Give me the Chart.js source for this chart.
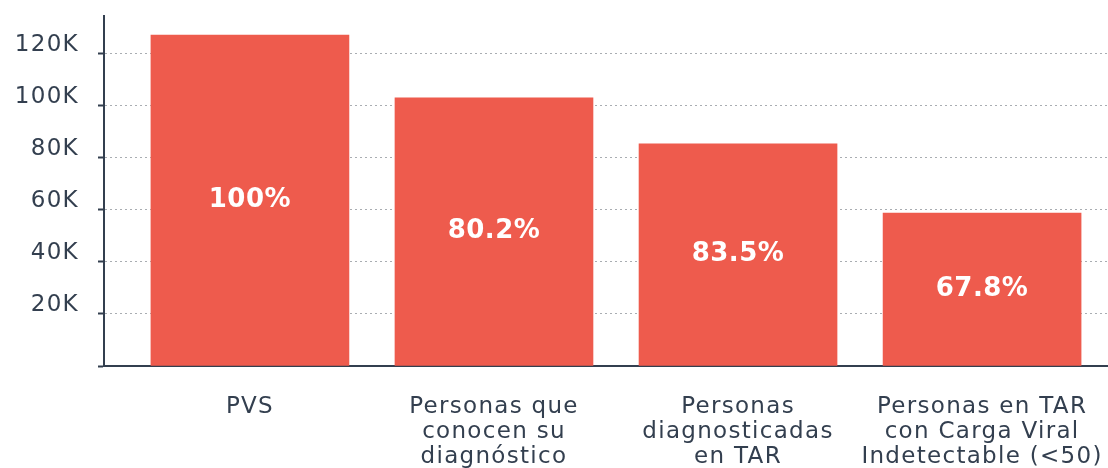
<html><head>
<meta charset="UTF-8">
<title>PVS cascada</title>
<style>
  body { margin: 0; padding: 0; background: #ffffff; }
  .chart-container { width: 1108px; height: 468px; }
</style>
<script src="https://cdn.jsdelivr.net/npm/chart.js"></script>
</head>
<body>
  <div class="chart-container">
    <canvas id="cascadeChart"></canvas>
  </div>

  <script>
    // data
    const categories = [
      ['PVS'],
      ['Personas que', 'conocen su', 'diagnóstico'],
      ['Personas', 'diagnosticadas', 'en TAR'],
      ['Personas en TAR', 'con Carga Viral', 'Indetectable (<50)']
    ];
    const peopleCount = [127300, 103100, 85400, 58800];
    const percentLabels = ['100%', '80.2%', '83.5%', '67.8%'];
    const yTicks = [0, 20000, 40000, 60000, 80000, 100000, 120000];

    const textColor = '#333f4f';
    const barColor = '#ee5b4d';

    // the reference font is wide, space the letters a bit
    const spacingPlugin = {
      id: 'letterSpacing',
      beforeDraw(chart) {
        chart.ctx.letterSpacing = '1.3px';
      }
    };

    // white percentage in the middle of each bar
    const percentPlugin = {
      id: 'percentLabels',
      afterDatasetsDraw(chart) {
        const ctx = chart.ctx;
        const meta = chart.getDatasetMeta(0);
        ctx.save();
        ctx.letterSpacing = '0.5px';
        ctx.fillStyle = '#ffffff';
        ctx.font = 'bold 26px "DejaVu Sans"';
        ctx.textAlign = 'center';
        ctx.textBaseline = 'middle';
        meta.data.forEach((bar, i) => {
          const mid = (bar.y + bar.base) / 2;
          ctx.fillText(percentLabels[i], bar.x, mid);
        });
        ctx.restore();
      }
    };

    const ctx = document.getElementById('cascadeChart').getContext('2d');
    new Chart(ctx, {
      type: 'bar',
      data: {
        datasets: [{
          data: peopleCount.map((v, i) => ({ x: i, y: v })),
          backgroundColor: barColor,
          barThickness: 198
        }]
      },
      options: {
        responsive: true,
        maintainAspectRatio: false,
        animation: false,
        layout: { padding: { top: 16, right: 0, left: 0, bottom: 0 } },
        plugins: {
          legend: { display: false },
          tooltip: { enabled: false }
        },
        scales: {
          x: {
            type: 'linear',
            offset: false,
            min: -0.598,
            max: 3.516,
            afterBuildTicks: (axis) => {
              axis.ticks = categories.map((c, i) => ({ value: i }));
            },
            afterFit: (axis) => {
              axis.height = 102;
              axis.paddingLeft = 0;
              axis.paddingRight = 0;
            },
            grid: { display: false, drawTicks: false },
            border: { display: true, color: textColor, width: 2 },
            ticks: {
              autoSkip: false,
              maxRotation: 0,
              padding: 28,
              color: textColor,
              font: { family: '"DejaVu Sans"', size: 23, lineHeight: 1.09 },
              callback: (value) => categories[value]
            }
          },
          y: {
            min: 0,
            max: 134600,
            afterBuildTicks: (axis) => {
              axis.ticks = yTicks.map(v => ({ value: v }));
            },
            afterFit: (axis) => {
              axis.width = 104;
              axis.paddingTop = 0;
              axis.paddingBottom = 0;
            },
            grid: {
              color: '#a9adb2',
              lineWidth: 1,
              tickColor: textColor,
              tickLength: 6,
              tickWidth: 2
            },
            border: { display: true, color: textColor, width: 2, dash: [2, 3] },
            ticks: {
              padding: 19,
              color: textColor,
              // two lines (second empty) lifts the label above its grid line
              font: { family: '"DejaVu Sans"', size: 23, lineHeight: 0.78 },
              callback: (value) => value === 0 ? '' : [(value / 1000) + 'K', '']
            }
          }
        }
      },
      plugins: [spacingPlugin, percentPlugin]
    });
  </script>
</body></html>
